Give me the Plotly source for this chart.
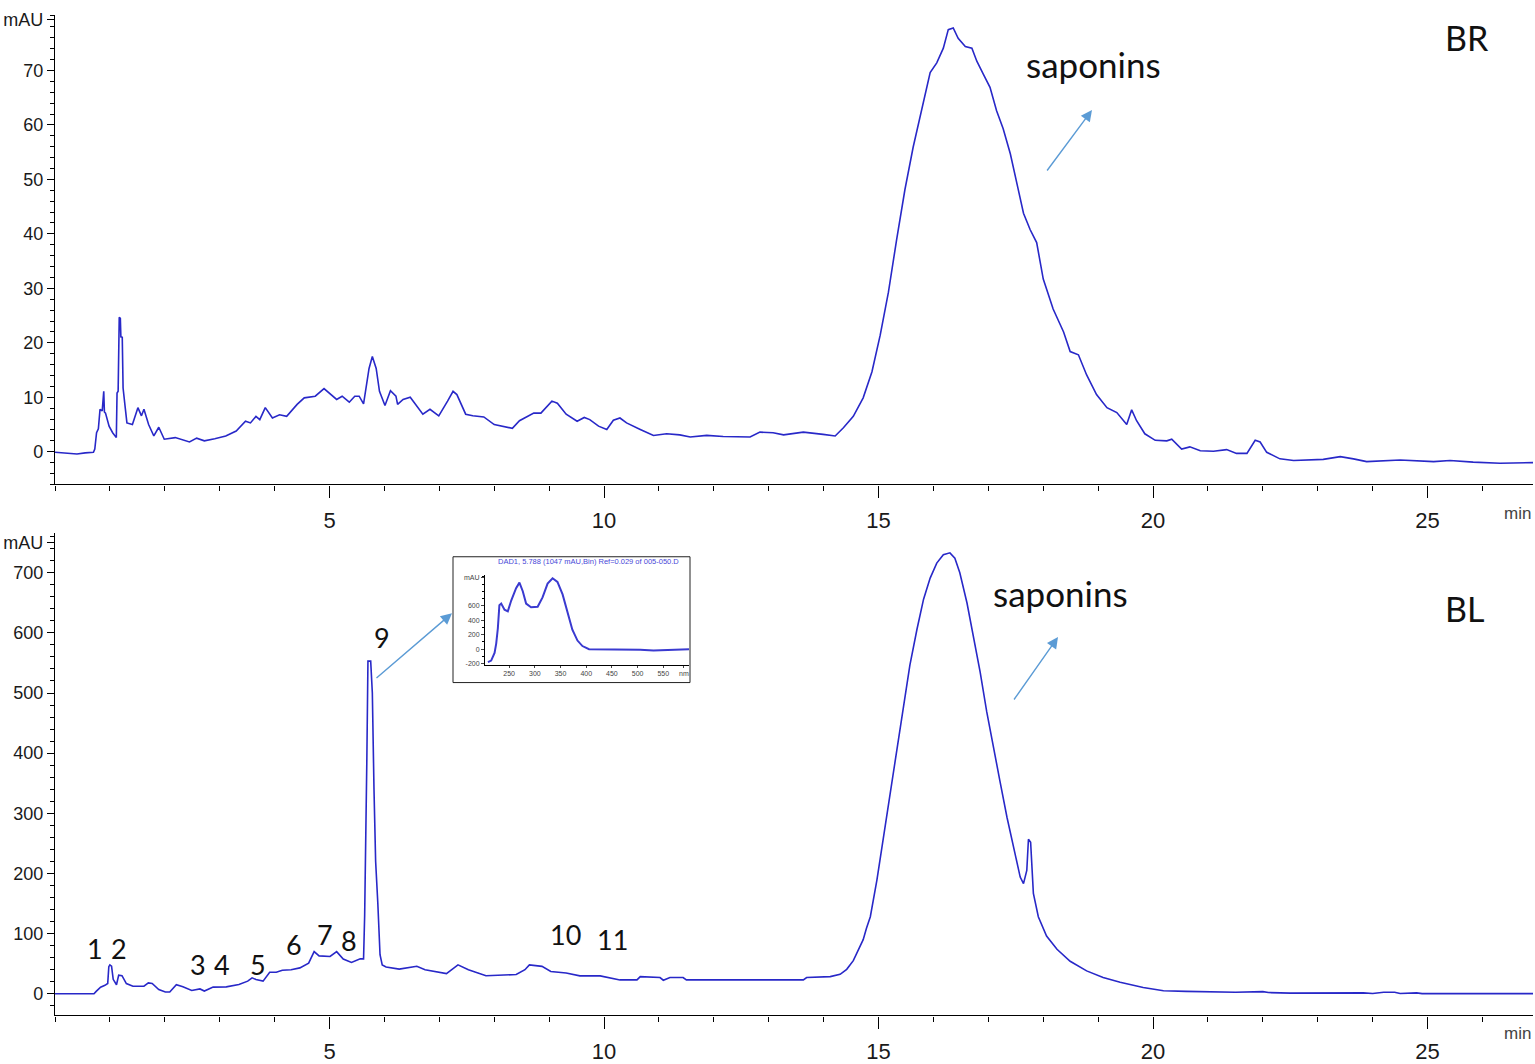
import plotly.graph_objects as go

# ---------------- data ----------------
# BR chromatogram (min, mAU)
t_BR = [0.0, 0.25, 0.4, 0.55, 0.70, 0.725, 0.757, 0.79, 0.82, 0.86, 0.888, 0.90, 0.92, 0.985, 1.05,
        1.117, 1.13, 1.15, 1.17, 1.19, 1.20, 1.225, 1.24, 1.28, 1.31, 1.41, 1.51, 1.575, 1.62, 1.705,
        1.80, 1.89, 1.99, 2.19, 2.45, 2.58, 2.72, 2.91, 3.11, 3.30, 3.47, 3.56, 3.66, 3.73, 3.83, 3.96,
        4.09, 4.22, 4.41, 4.54, 4.74, 4.90, 5.03, 5.13, 5.23, 5.36, 5.46, 5.54, 5.62, 5.72, 5.78, 5.85,
        5.91, 6.01, 6.11, 6.21, 6.24, 6.34, 6.47, 6.57, 6.70, 6.83, 6.99, 7.15, 7.25, 7.32, 7.48, 7.61,
        7.81, 8.00, 8.33, 8.46, 8.72, 8.85, 9.05, 9.15, 9.31, 9.51, 9.64, 9.74, 9.90, 10.05, 10.17,
        10.29, 10.41, 10.66, 10.90, 11.14, 11.38, 11.57, 11.87, 12.17, 12.66, 12.84, 13.08, 13.27,
        13.63, 13.99, 14.21, 14.36, 14.54, 14.72, 14.88, 15.03, 15.18, 15.33, 15.48, 15.63, 15.79,
        15.94, 16.06, 16.18, 16.27, 16.36, 16.45, 16.58, 16.70, 16.79, 16.91, 17.03, 17.15, 17.27,
        17.40, 17.52, 17.64, 17.76, 17.88, 18.00, 18.18, 18.37, 18.49, 18.64, 18.79, 18.97, 19.16,
        19.34, 19.52, 19.61, 19.70, 19.85, 20.04, 20.25, 20.34, 20.52, 20.67, 20.86, 21.10, 21.34,
        21.52, 21.71, 21.86, 21.95, 22.07, 22.31, 22.56, 23.10, 23.41, 23.65, 23.89, 24.50, 25.11,
        25.41, 25.83, 26.32, 26.92]
v_BR = [-0.1, -0.3, -0.4, -0.2, -0.1, 0.5, 3.5, 4.2, 7.8, 7.5, 11.1, 7.3, 7.1, 4.7, 3.5,
        2.6, 10.8, 11.1, 24.7, 24.5, 21.1, 21.0, 11.7, 8.0, 5.3, 5.0, 8.1, 6.6, 7.8, 5.0,
        2.9, 4.5, 2.3, 2.6, 1.8, 2.5, 2.0, 2.4, 2.9, 3.8, 5.6, 5.3, 6.5, 5.9, 8.1, 6.2,
        6.8, 6.5, 8.7, 9.9, 10.2, 11.6, 10.5, 9.6, 10.2, 9.1, 10.2, 10.2, 8.8, 15.3, 17.5, 15.3,
        11.1, 8.5, 11.2, 10.2, 8.7, 9.6, 10.0, 8.7, 6.9, 7.8, 6.6, 9.3, 11.1, 10.5, 6.9, 6.6,
        6.4, 5.0, 4.3, 5.7, 7.1, 7.1, 9.3, 8.9, 6.9, 5.6, 6.3, 5.9, 4.7, 4.1, 5.8,
        6.2, 5.3, 4.1, 3.0, 3.3, 3.1, 2.7, 3.0, 2.8, 2.7, 3.6, 3.5, 3.1,
        3.6, 3.2, 2.9, 4.4, 6.5, 9.9, 14.7, 21.4, 29.3, 39.0, 48.1, 55.9, 63.2,
        69.6, 71.4, 74.1, 77.5, 77.8, 75.9, 74.4, 74.1, 71.7, 69.3, 66.9, 62.6, 59.3,
        54.7, 49.3, 43.8, 40.8, 38.4, 31.7, 26.2, 22.0, 18.4, 17.8, 14.1, 10.5, 8.1,
        7.2, 5.0, 7.7, 5.7, 3.3, 2.1, 2.0, 2.3, 0.5, 0.9, 0.2, 0.1, 0.4,
        -0.3, -0.3, 2.1, 1.8, -0.1, -1.3, -1.6, -1.4, -0.9, -1.3, -1.8, -1.5, -1.8,
        -1.6, -1.9, -2.1, -2.0]

# BL chromatogram (min, mAU)
t_BL = [0.0, 0.71, 0.75, 0.83, 0.91, 0.96, 0.98, 1.0, 1.03, 1.06, 1.12, 1.16, 1.22, 1.30, 1.42,
        1.62, 1.70, 1.77, 1.89, 2.01, 2.09, 2.21, 2.33, 2.49, 2.64, 2.72, 2.88, 3.12, 3.35, 3.51,
        3.59, 3.66, 3.79, 3.91, 4.03, 4.14, 4.30, 4.46, 4.62, 4.72, 4.81, 5.01, 5.13, 5.25, 5.40,
        5.56, 5.62, 5.64, 5.68, 5.70, 5.75, 5.78, 5.81, 5.84, 5.88, 5.92, 5.96, 6.03, 6.27, 6.59,
        6.74, 7.06, 7.13, 7.34, 7.53, 7.85, 8.12, 8.40, 8.56, 8.64, 8.87, 9.03, 9.31, 9.56, 9.93,
        10.29, 10.60, 10.66, 11.02, 11.08, 11.20, 11.44, 11.50, 11.69, 13.63, 13.69, 14.12, 14.30,
        14.42, 14.54, 14.66, 14.72, 14.78, 14.85, 14.97, 15.09, 15.21, 15.33, 15.45, 15.57, 15.70,
        15.82, 15.94, 16.06, 16.18, 16.30, 16.39, 16.48, 16.61, 16.73, 16.85, 16.97, 17.09, 17.21,
        17.34, 17.46, 17.58, 17.64, 17.70, 17.73, 17.77, 17.82, 17.91, 18.06, 18.25, 18.49, 18.79,
        19.09, 19.40, 19.82, 20.19, 20.60, 21.00, 21.50, 22.00, 22.10, 22.50, 22.98, 23.40, 23.83,
        24.00, 24.20, 24.40, 24.50, 24.80, 24.90, 26.92]
v_BL = [0, 0, 4, 11, 14, 17, 45, 48, 46, 24, 15, 31, 30, 17, 12.6,
        12.6, 18, 17, 7, 3, 3, 15, 11.5, 5.5, 8, 4.5, 11, 11.5, 15.4, 21,
        26.4, 23.6, 21, 35.7, 35.7, 39, 40, 43, 51, 70, 63, 62, 70, 57.7, 52,
        58, 58, 130, 390, 553, 553, 500, 340, 220, 150, 65, 48, 44.5, 41, 45.6,
        40, 34.6, 33.5, 48, 40, 30, 30.8, 31.9, 40, 48, 45.6, 37, 34.6, 29.7, 29.7,
        23, 23, 28.5, 27, 22.5, 27, 27, 23, 23, 23, 27, 28.5, 32.4,
        40.6, 55, 79, 90, 109, 128, 189, 260, 332, 403, 480, 546, 606,
        656, 691, 716, 730, 733, 724, 700, 650, 595, 535, 469, 409, 354,
        293, 244, 194, 183, 205, 257, 252, 167, 128, 96, 74, 54, 38,
        27, 19, 10.4, 5, 4, 3, 2.5, 3.5, 2, 1, 1.5, 2, 1.5,
        0.5, 2.5, 2.5, 0.5, 1.5, 0.3, 0.3]

# UV spectrum of peak 9 (nm, mAU)
wl_spec = [208.7, 215, 221.6, 224.8, 228, 231, 234.5, 241, 247.4, 254, 263.5, 270, 276.5, 283,
           292.6, 305.5, 315, 324.8, 334.5, 344, 354, 363.5, 373, 383, 392.6, 405.5, 450, 505,
           531, 570, 600]
ab_spec = [-179, -157, -51, 77, 289, 608, 630, 545, 523, 672, 842, 919, 800, 630,
           579, 587, 715, 906, 979, 928, 757, 502, 268, 119, 43, 0, 0, -8,
           -17, -8, 0]

# tick labels
x_ticks = [5, 10, 15, 20, 25]
y_ticks_BR = [0, 10, 20, 30, 40, 50, 60, 70]
y_ticks_BL = [0, 100, 200, 300, 400, 500, 600, 700]
spec_x_ticks = [250, 300, 350, 400, 450, 500, 550]
spec_y_ticks = [-200, 0, 200, 400, 600]

# peak labels for BL (label, min, mAU position of the text)
peak_labels = ["1", "2", "3", "4", "5", "6", "7", "8", "9", "10", "11"]
peak_lab_t = [0.73, 1.17, 2.60, 3.04, 3.70, 4.35, 4.92, 5.36, 5.96, 9.29, 10.15]
peak_lab_v = [76, 76, 49, 49, 49, 82, 99, 89, 593, 99, 91]

# ---------------- layout helpers ----------------
W, H = 1535, 1064
def px(x):
    return min(1.0, max(0.0, x / W))
def py(y):
    return min(1.0, max(0.0, 1 - y / H))

LINE = "#2828c8"
TICKFONT = dict(family="Liberation Sans Narrow, Liberation Sans, Arial", size=18, color="#1a1a1a")
XTICKFONT = dict(family="Liberation Sans Narrow, Liberation Sans, Arial", size=22, color="#1a1a1a")
TXT = "Lato, Open Sans, Noto Sans"

fig = go.Figure()
fig.add_trace(go.Scatter(x=t_BR, y=v_BR, mode="lines", line=dict(color=LINE, width=1.6),
                         xaxis="x", yaxis="y", showlegend=False))
fig.add_trace(go.Scatter(x=t_BL, y=v_BL, mode="lines", line=dict(color=LINE, width=1.6),
                         xaxis="x2", yaxis="y2", showlegend=False))
fig.add_trace(go.Scatter(x=wl_spec, y=ab_spec, mode="lines", line=dict(color="#3a3ad0", width=2),
                         xaxis="x3", yaxis="y3", showlegend=False))

xcommon = dict(range=[0, 26.92], showline=True, linecolor="black", linewidth=1.2, showgrid=False,
               zeroline=False, ticks="outside", ticklen=12, tickwidth=1.2, tickcolor="black",
               tickvals=x_ticks, tickfont=XTICKFONT, ticklabelstandoff=4, ticklabeloverflow="allow",
               minor=dict(dtick=1, tick0=0, ticks="outside", ticklen=5, tickcolor="black", tickwidth=1))

ycommon = dict(showline=True, linecolor="black", linewidth=1.2, showgrid=False, zeroline=False,
               ticks="outside", ticklen=7, tickwidth=1.2, tickcolor="black", tickfont=TICKFONT,
               ticklabeloverflow="allow")

fig.update_layout(
    width=W, height=H, margin=dict(l=0, r=0, t=0, b=0),
    paper_bgcolor="white", plot_bgcolor="white",
    xaxis=dict(domain=[px(55), px(1533)], anchor="y", **xcommon),
    yaxis=dict(domain=[py(484), py(10)], anchor="x", range=[-6, 80.2],
               tickvals=y_ticks_BR + [79.3], ticktext=[str(v) for v in y_ticks_BR] + ["mAU"],
               minor=dict(dtick=2, tick0=0, ticks="outside", ticklen=4, tickcolor="black", tickwidth=1),
               **ycommon),
    xaxis2=dict(domain=[px(55), px(1533)], anchor="y2", **xcommon),
    yaxis2=dict(domain=[py(1020), py(533)], anchor="x2", range=[-36, 766],
                tickvals=y_ticks_BL + [750], ticktext=[str(v) for v in y_ticks_BL] + ["mAU"],
                minor=dict(dtick=20, tick0=0, ticks="outside", ticklen=4, tickcolor="black", tickwidth=1),
                **ycommon),
    xaxis3=dict(domain=[px(485), px(689)], anchor="y3", range=[203, 600], showline=True,
                linecolor="black", linewidth=1, showgrid=False, zeroline=False, ticks="outside",
                ticklen=2, tickvals=spec_x_ticks + [590],
                ticktext=[str(v) for v in spec_x_ticks] + ["nm"],
                tickfont=dict(family="Liberation Sans", size=7, color="#444")),
    yaxis3=dict(domain=[py(666), py(575)], anchor="x3", range=[-215, 1030], showline=True,
                linecolor="black", linewidth=1, showgrid=False, zeroline=False, ticks="outside",
                ticklen=3, tickvals=spec_y_ticks + [990],
                ticktext=[str(v) for v in spec_y_ticks] + ["mAU"],
                minor=dict(dtick=100, ticks="outside", ticklen=2, tickcolor="black"),
                tickfont=dict(family="Liberation Sans", size=7, color="#444")),
)

# inset frame
fig.add_shape(type="rect", xref="paper", yref="paper", x0=px(453), x1=px(690), y0=py(684), y1=py(557),
              line=dict(color="#222", width=1), layer="below", fillcolor="white")

annotations = []
# 'min' axis labels
for yy in (513, 1050):
    annotations.append(dict(xref="paper", yref="paper", x=px(1533), y=py(yy), xanchor="right",
                            text="min", showarrow=False,
                            font=dict(family="Liberation Sans Narrow, Liberation Sans", size=17, color="#444")))
# sample labels and saponins text
annotations += [
    dict(xref="x", yref="y", x=25.72, y=76, text="BR", showarrow=False,
         font=dict(family=TXT, size=34, color="#111")),
    dict(xref="x", yref="y", x=18.91, y=71.1, text="saponins", showarrow=False,
         font=dict(family=TXT, size=35, color="#111")),
    dict(xref="x2", yref="y2", x=25.68, y=641, text="BL", showarrow=False,
         font=dict(family=TXT, size=34, color="#111")),
    dict(xref="x2", yref="y2", x=18.31, y=667, text="saponins", showarrow=False,
         font=dict(family=TXT, size=35, color="#111")),
]
for lab, tt, vv in zip(peak_labels, peak_lab_t, peak_lab_v):
    annotations.append(dict(xref="x2", yref="y2", x=tt, y=vv, text=lab, showarrow=False,
                            font=dict(family=TXT, size=27, color="#111")))
# arrows
ARROW = "#5b9bd5"
for hx, hy, axp, ayp in [(1092, 106, -46, 62), (1058, 638, -45, 64), (452, 614, -77, 66)]:
    annotations.append(dict(xref="paper", yref="paper", x=px(hx), y=py(hy), ax=axp, ay=ayp,
                            text="", showarrow=True, arrowhead=2, arrowsize=1.6, arrowwidth=1.4,
                            arrowcolor=ARROW))
# inset title
annotations.append(dict(xref="paper", yref="paper", x=px(588), y=py(562),
                        text="DAD1, 5.788 (1047 mAU,Bin) Ref=0.029 of 005-050.D", showarrow=False,
                        font=dict(family="Liberation Sans", size=7.5, color="#4848d8")))
fig.update_layout(annotations=annotations)

# remove the default page margin so the 1535x1064 figure fills the window exactly
fig.write_html("out.html", config={"displayModeBar": False},
               post_script="document.body.style.margin='0';document.body.style.overflow='hidden';")
